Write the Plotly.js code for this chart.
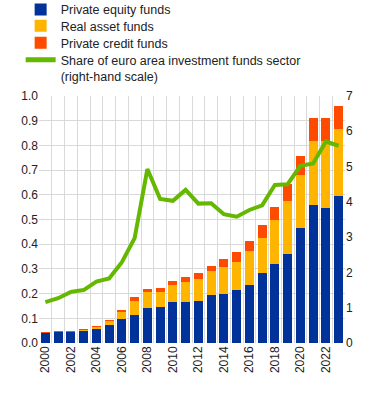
<!DOCTYPE html>
<html>
<head>
<meta charset="utf-8">
<script src="https://cdn.plot.ly/plotly-3.0.1.min.js"></script>
<style>html,body{margin:0;padding:0;background:#fff;}#chart{width:371px;height:405px;}</style>
</head>
<body>
<div id="chart"></div>
<script>
const years = [2000,2001,2002,2003,2004,2005,2006,2007,2008,2009,2010,2011,2012,2013,2014,2015,2016,2017,2018,2019,2020,2021,2022,2023];
const privateEquity = [0.040,0.045,0.045,0.050,0.058,0.074,0.097,0.113,0.142,0.146,0.166,0.166,0.170,0.195,0.199,0.215,0.235,0.285,0.318,0.359,0.464,0.557,0.545,0.594];
const realAsset     = [0.000,0.000,0.000,0.004,0.007,0.016,0.029,0.057,0.064,0.061,0.069,0.082,0.090,0.098,0.110,0.114,0.139,0.142,0.179,0.215,0.218,0.259,0.271,0.272];
const privateCredit = [0.005,0.004,0.004,0.004,0.004,0.004,0.008,0.016,0.013,0.016,0.018,0.020,0.024,0.020,0.032,0.041,0.041,0.052,0.052,0.069,0.077,0.093,0.093,0.092];
const shareSector   = [1.16,1.27,1.45,1.50,1.74,1.83,2.29,2.97,4.93,4.08,4.03,4.34,3.95,3.96,3.65,3.58,3.77,3.90,4.48,4.50,5.02,5.09,5.71,5.59];
const tickYears = [2000,2002,2004,2006,2008,2010,2012,2014,2016,2018,2020,2022];
const names = ['Private equity funds','Real asset funds','Private credit funds','Share of euro area investment funds sector<br>(right-hand scale)'];

const font = {family:'Arial, Liberation Sans, sans-serif', size:12, color:'#222'};
const lfont = {family:'Arial, Liberation Sans, sans-serif', size:12.5, color:'#222'};
const traces = [
  {type:'bar', x:years, y:privateEquity, name:names[0], marker:{color:'#003299'}, legend:'legend'},
  {type:'bar', x:years, y:realAsset, name:names[1], marker:{color:'#FFB400'}, legend:'legend2'},
  {type:'bar', x:years, y:privateCredit, name:names[2], marker:{color:'#FF4B00'}, legend:'legend3'},
  {type:'scatter', mode:'lines', x:years, y:shareSector, name:names[3], yaxis:'y2', line:{color:'#65B800', width:4}, legend:'legend4'}
];
function leg(y, valign){
  return {x:-0.06, y:y, yref:'paper', xanchor:'left', yanchor:'top', font:lfont, bgcolor:'rgba(0,0,0,0)', valign:valign||'middle', itemsizing:'constant'};
}
const layout = {
  width:371, height:405,
  margin:{l:39, r:26, t:96, b:62, autoexpand:false},
  barmode:'stack', bargap:0.3,
  font:font,
  paper_bgcolor:'#fff', plot_bgcolor:'#fff',
  showlegend:true,
  legend:leg(1.409),
  legend2:leg(1.344),
  legend3:leg(1.275),
  legend4:leg(1.206, 'top'),
  xaxis:{type:'linear', range:[1999.5,2023.5], tickvals:tickYears, ticktext:tickYears.map(String), tickangle:-90, showgrid:false, zeroline:false, ticks:'', showline:false, tickfont:font,
    minor:{tick0:1999.5, dtick:1, showgrid:true, gridcolor:'#d9d9d9', gridwidth:1, ticks:''}},
  yaxis:{range:[0,1], dtick:0.1, tickformat:'.1f', showgrid:true, gridcolor:'#d9d9d9', gridwidth:1, zeroline:false, ticks:'', tickfont:font, showline:false},
  yaxis2:{range:[0,7], dtick:1, overlaying:'y', side:'right', showgrid:false, zeroline:false, ticks:'', tickfont:font}
};
Plotly.newPlot('chart', traces, layout, {displayModeBar:false, staticPlot:true});
</script>
</body>
</html>
